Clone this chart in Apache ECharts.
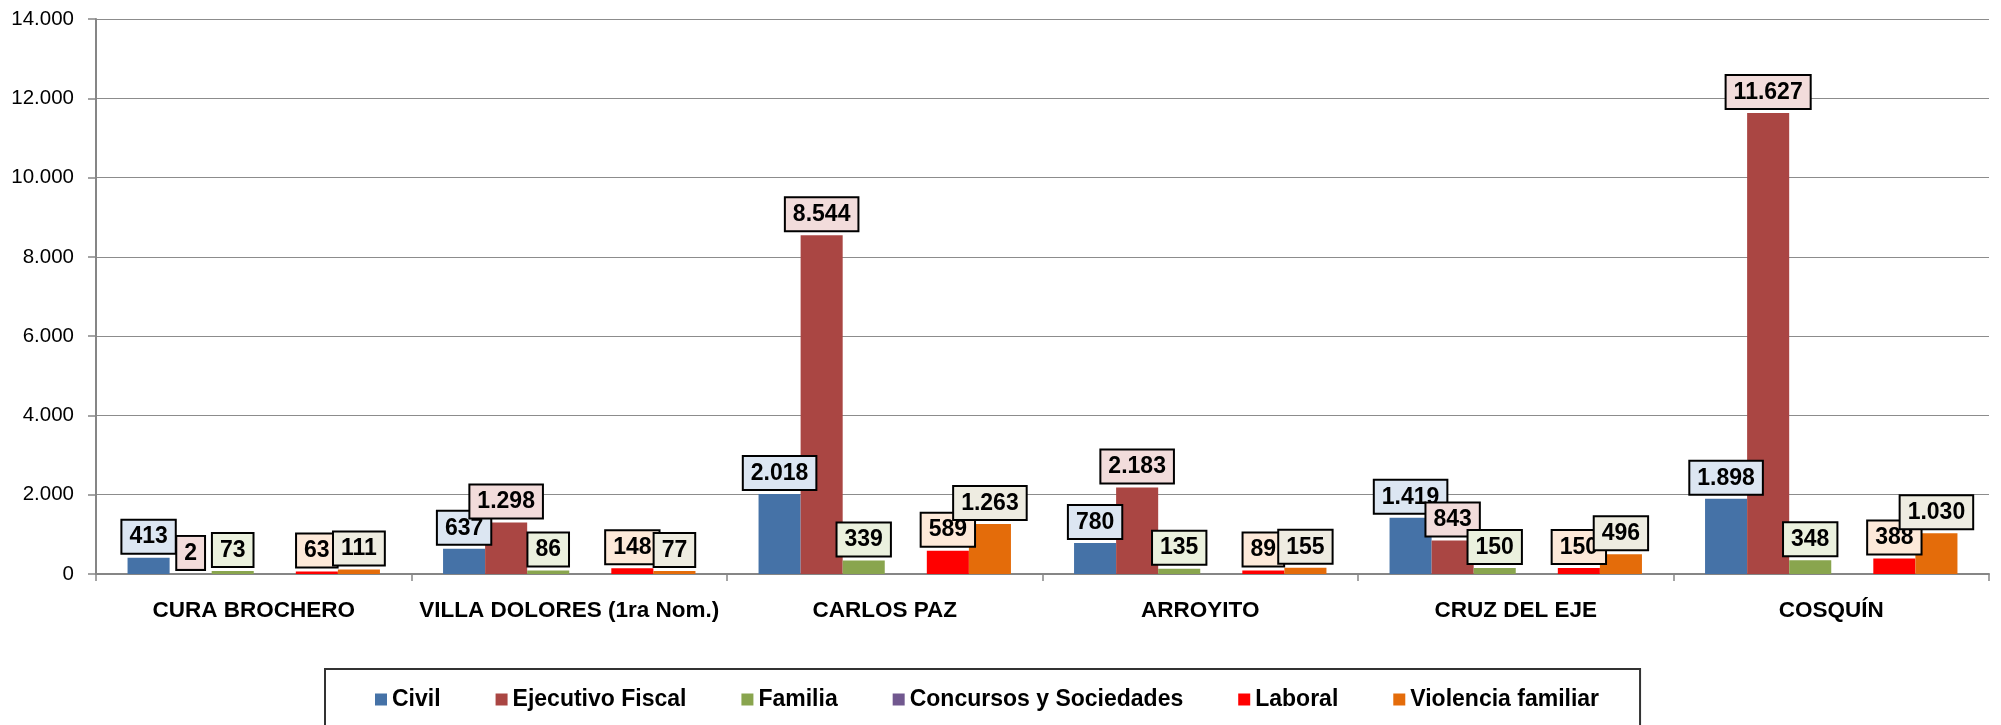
<!DOCTYPE html>
<html>
<head>
<meta charset="utf-8">
<script src="https://cdn.jsdelivr.net/npm/echarts@6/dist/echarts.min.js"></script>
<style>html,body{margin:0;padding:0;background:#fff}#c{width:2001px;height:725px}</style>
</head>
<body>
<div id="c"></div>
<script>
var categories = ['CURA BROCHERO', 'VILLA DOLORES (1ra Nom.)', 'CARLOS PAZ', 'ARROYITO', 'CRUZ DEL EJE', 'COSQUÍN'];
var seriesNames = ['Civil', 'Ejecutivo Fiscal', 'Familia', 'Concursos y Sociedades', 'Laboral', 'Violencia familiar'];
var civil = [413, 637, 2018, 780, 1419, 1898];
var ejecutivoFiscal = [2, 1298, 8544, 2183, 843, 11627];
var familia = [73, 86, 339, 135, 150, 348];
var concursos = [0, 0, 0, 0, 0, 0];
var laboral = [63, 148, 589, 89, 150, 388];
var violencia = [111, 77, 1263, 155, 496, 1030];
var yTicks = [0, 2000, 4000, 6000, 8000, 10000, 12000, 14000];

var values = [civil, ejecutivoFiscal, familia, concursos, laboral, violencia];
var barColors = ['#4572A7', '#AA4643', '#89A54E', '#71588F', '#FF0000', '#E46C0A'];
var labelBg = ['#DCE6F2', '#F2DCDB', '#EBF1DE', '#E6E0EC', '#FDE9D9', '#EEECE1'];
var FONT = "'Liberation Sans', Arial, sans-serif";

function fmt(v) {
  return String(v).replace(/\B(?=(\d{3})+(?!\d))/g, '.');
}

var series = seriesNames.map(function (name, i) {
  return {
    name: name,
    type: 'bar',
    data: values[i],
    barGap: '0%',
    barCategoryGap: '20%',
    itemStyle: { color: barColors[i] },
    label: {
      show: i !== 3,
      position: 'top',
      distance: 5,
      formatter: function (p) { return fmt(p.value); },
      fontFamily: FONT,
      fontSize: 23,
      fontWeight: 'bold',
      color: '#000',
      backgroundColor: labelBg[i],
      borderColor: '#000',
      borderWidth: 2,
      padding: [5, 7, 4, 7]
    }
  };
});

var chart = echarts.init(document.getElementById('c'));
chart.setOption({
  animation: false,
  backgroundColor: '#fff',
  grid: { left: 96, right: 12, top: 19, bottom: 151, containLabel: false },
  xAxis: {
    type: 'category',
    data: categories,
    axisLine: { show: true, lineStyle: { color: '#868686', width: 2 } },
    axisTick: { show: true, length: 7, lineStyle: { color: '#868686', width: 1.5 } },
    axisLabel: {
      fontFamily: FONT, fontSize: 22.5, fontWeight: 'bold', color: '#000', margin: 25, interval: 0
    }
  },
  yAxis: {
    type: 'value',
    min: yTicks[0],
    max: yTicks[yTicks.length - 1],
    interval: yTicks[1] - yTicks[0],
    axisLine: { show: true, lineStyle: { color: '#868686', width: 2 } },
    axisTick: { show: true, length: 8, lineStyle: { color: '#868686', width: 1.5 } },
    splitLine: { show: true, lineStyle: { color: '#8C8C8C', width: 1.2 } },
    axisLabel: {
      fontFamily: FONT, fontSize: 20.5, color: '#000', margin: 22,
      formatter: function (v) { return fmt(v); }
    }
  },
  legend: {
    left: 325,
    top: 669,
    orient: 'horizontal',
    itemWidth: 12,
    itemHeight: 12,
    itemGap: 55,
    icon: 'rect',
    borderColor: '#333',
    borderWidth: 2,
    padding: [19, 41, 40, 50],
    textStyle: { fontFamily: FONT, fontSize: 23, fontWeight: 'bold', color: '#000' },
    data: seriesNames
  },
  series: series
});
</script>
</body>
</html>
